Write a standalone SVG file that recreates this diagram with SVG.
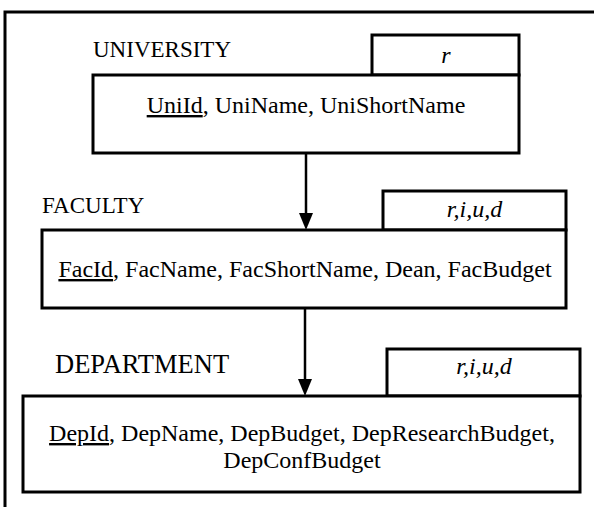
<svg xmlns="http://www.w3.org/2000/svg" width="594" height="507" viewBox="0 0 594 507">
<defs>
<style>
.box{fill:#fff;stroke:#000;stroke-width:3}
.lbl{font-family:"Liberation Serif","Times New Roman",serif;font-size:23px;fill:#000}
.txt{font-family:"Liberation Serif","Times New Roman",serif;font-size:24px;fill:#000;text-anchor:middle}
.ops{font-family:"Liberation Serif","Times New Roman",serif;font-size:24px;font-style:italic;fill:#000;text-anchor:middle}
.conn{stroke:#000;stroke-width:2.5;fill:none}
.head{fill:#000}
</style>
</defs>
<rect x="0" y="0" width="594" height="507" fill="#fff"/>
<path d="M5,507 V12 H594" fill="none" stroke="#000" stroke-width="3"/>
<g id="connectors">
<line class="conn" x1="306" y1="153" x2="306" y2="213"/>
<path class="head" d="M299,213 L313,213 L306,230 Z"/>
<line class="conn" x1="305" y1="308" x2="305" y2="379"/>
<path class="head" d="M298,379 L312,379 L305,396 Z"/>
</g>
<g id="university">
<text class="lbl" x="93" y="57">UNIVERSITY</text>
<rect class="box" x="372" y="35" width="147" height="40"/>
<text class="ops" x="446" y="63">r</text>
<rect class="box" x="93" y="75" width="426" height="78"/>
<text class="txt" x="306" y="113"><tspan text-decoration="underline">UniId</tspan>, UniName, UniShortName</text>
</g>
<g id="faculty">
<text class="lbl" x="42" y="213">FACULTY</text>
<rect class="box" x="383" y="191" width="183" height="39"/>
<text class="ops" x="474.5" y="217">r,i,u,d</text>
<rect class="box" x="42" y="230" width="524" height="78"/>
<text class="txt" x="305" y="277"><tspan text-decoration="underline">FacId</tspan>, FacName, FacShortName, Dean, FacBudget</text>
</g>
<g id="department">
<text class="lbl" x="55" y="373" style="font-size:26.5px">DEPARTMENT</text>
<rect class="box" x="387" y="349" width="193" height="47"/>
<text class="ops" x="484" y="374">r,i,u,d</text>
<rect class="box" x="23" y="396" width="557" height="96"/>
<text class="txt" x="302" y="441"><tspan text-decoration="underline">DepId</tspan>, DepName, DepBudget, DepResearchBudget,</text>
<text class="txt" x="302" y="468">DepConfBudget</text>
</g>
</svg>
